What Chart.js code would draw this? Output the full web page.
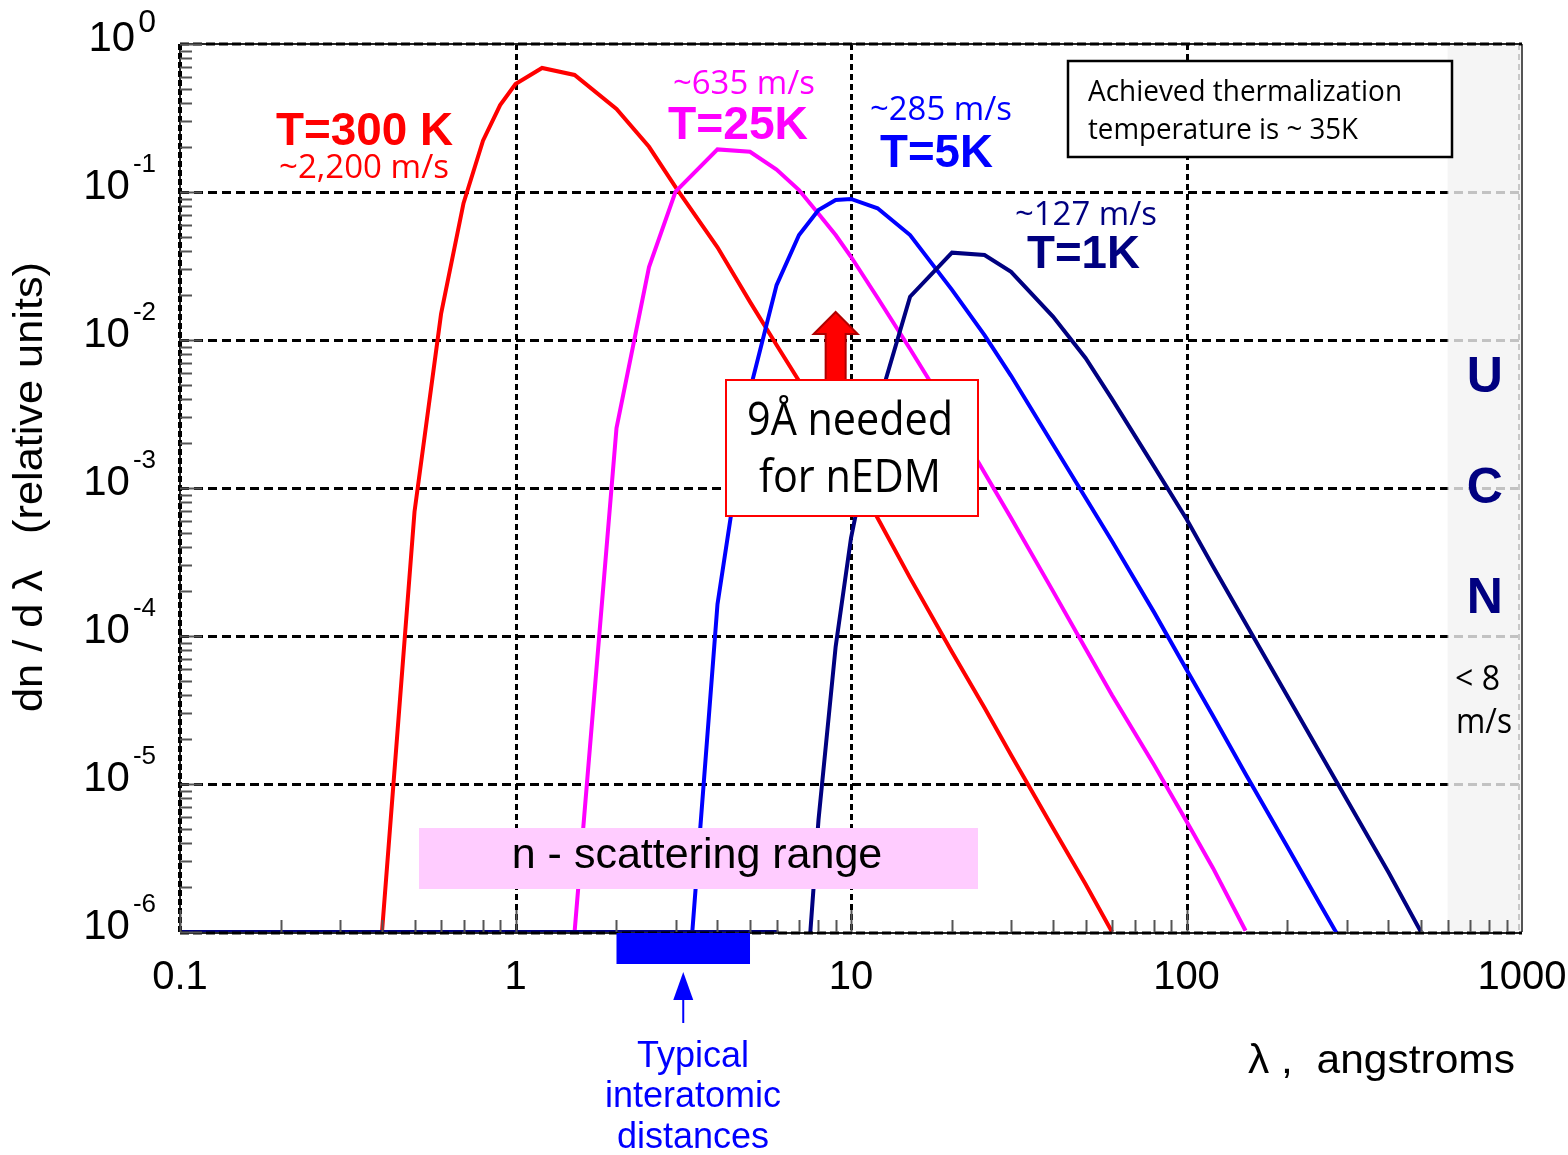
<!DOCTYPE html>
<html>
<head>
<meta charset="utf-8">
<script src="https://cdn.jsdelivr.net/npm/chart.js@4.4.1/dist/chart.umd.min.js"></script>
<style>
  body { margin: 0; background: #fff; }
  #wrap { width: 1568px; height: 1155px; }
</style>
</head>
<body>
<div id="wrap"><canvas id="chart" width="1568" height="1155"></canvas></div>
<script>
// wavelength grid, angstroms
var lambdas = [0.1, 0.2, 0.3, 0.4, 0.5, 0.6, 0.7, 0.8, 0.9, 1, 1.2, 1.5, 2, 2.5, 3, 4, 5, 6, 7, 8, 9, 10,
  12, 15, 20, 25, 30, 40, 50, 60, 80, 100, 120, 150, 200, 250, 300, 400, 500];

// dn/dlambda, relative units (1e-6 = bottom of the plot)
var t300 = [1e-6, 1e-6, 1e-6, 1e-6, 6.9e-4, 1.5e-2, 8.4e-2, 0.222, 0.387, 0.537, 0.689, 0.618, 0.364, 0.202, 0.108,
  4.23e-2, 1.81e-2, 9.25e-3, 5.28e-3, 3.06e-3, 1.95e-3, 1.32e-3, 6.27e-4, 2.47e-4, 7.8e-5, 3.27e-5, 1.57e-5,
  5.05e-6, 2.11e-6, 1.0e-6, null, null, null, null, null, null, null, null, null];
var t25 = [1e-6, 1e-6, 1e-6, 1e-6, 1e-6, 1e-6, 1e-6, 1e-6, 1e-6, 1e-6, 1e-6, 1e-6, 2.54e-3, 3.11e-2, 0.1005,
  0.194, 0.187, 0.142, 0.103, 7.13e-2, 5.12e-2, 3.65e-2, 1.93e-2, 8.7e-3, 3.02e-3, 1.27e-3, 6.27e-4,
  2.01e-4, 8.24e-5, 3.98e-5, 1.35e-5, 5.6e-6, 2.7e-6, 1.02e-6, null, null, null, null, null];
var t5 = [1e-6, 1e-6, 1e-6, 1e-6, 1e-6, 1e-6, 1e-6, 1e-6, 1e-6, 1e-6, 1e-6, 1e-6, 1e-6, 1e-6, 3.4e-8,
  1.64e-4, 4.59e-3, 2.35e-2, 5.12e-2, 7.56e-2, 8.83e-2, 8.97e-2, 7.76e-2, 5.12e-2, 2.18e-2, 1.08e-2, 5.73e-3,
  1.97e-3, 8.59e-4, 4.37e-4, 1.45e-4, 5.94e-5, 2.88e-5, 1.17e-5, 3.75e-6, 1.54e-6, 7.5e-7, null, null];
var t1 = [1e-6, 1e-6, 1e-6, 1e-6, 1e-6, 1e-6, 1e-6, 1e-6, 1e-6, 1e-6, 1e-6, 1e-6, 1e-6, 1e-6, 1e-6,
  1e-6, 1e-6, 1e-6, 8.9e-8, 5.71e-6, 8.47e-5, 4.59e-4, 3.5e-3, 1.96e-2, 3.89e-2, 3.75e-2, 2.89e-2,
  1.44e-2, 7.56e-3, 3.99e-3, 1.40e-3, 6.18e-4, 2.95e-4, 1.22e-4, 3.92e-5, 1.62e-5, 7.89e-6, 2.53e-6, 1.0e-6];

var xTicks = [0.1, 1, 10, 100, 1000];
var xTickLabels = ['0.1', '1', '10', '100', '1000'];
var yExponents = [0, -1, -2, -3, -4, -5, -6];
var scatterRange = [2, 5];     // typical interatomic distances
var ucnBand = [600, 1000];
var nedmLambda = 9;

var RED = '#ff0000', MAG = '#ff00ff', BLUE = '#0000ff', NAVY = '#000080';
var SANS = "'Liberation Sans', Arial, sans-serif";
var CAL = "'Open Sans', sans-serif";

function points (vals) {
  var out = [];
  lambdas.forEach(function (l, i) {
    if (vals[i] !== null) out.push({ x: l, y: vals[i] });
  });
  return out;
}

// text helper, optional w squeezes text to a given width
function txt (ctx, s, x, y, font, color, align, w) {
  ctx.save();
  ctx.font = font;
  ctx.fillStyle = color;
  ctx.textBaseline = 'alphabetic';
  ctx.textAlign = align || 'left';
  var sx = w ? w / ctx.measureText(s).width : 1;
  ctx.translate(x, y);
  ctx.scale(sx, 1);
  ctx.fillText(s, 0, 0);
  ctx.restore();
}

function line (ctx, x1, y1, x2, y2) {
  ctx.beginPath();
  ctx.moveTo(x1, y1);
  ctx.lineTo(x2, y2);
  ctx.stroke();
}

var decor = {
  id: 'decor',
  beforeDatasetsDraw: function (chart) {
    var ctx = chart.ctx, a = chart.chartArea;
    var xs = chart.scales.x, ys = chart.scales.y;
    ctx.save();
    ctx.strokeStyle = '#000';
    ctx.lineWidth = 3;
    ctx.setLineDash([9, 5]);
    yExponents.slice(1, -1).forEach(function (e) {
      var y = Math.round(ys.getPixelForValue(Math.pow(10, e))) + 0.5;
      line(ctx, a.left, y, a.right, y);
    });
    ctx.setLineDash([6, 4]);
    xTicks.slice(1, -1).forEach(function (v) {
      var x = Math.round(xs.getPixelForValue(v)) + 0.5;
      line(ctx, x, a.top, x, a.bottom);
    });
    // UCN band
    ctx.setLineDash([]);
    var b0 = xs.getPixelForValue(ucnBand[0]);
    ctx.fillStyle = 'rgba(242,242,242,0.8)';
    ctx.fillRect(b0, a.top, a.right - b0, a.bottom - a.top);
    ctx.strokeStyle = '#c8c8c8';
    ctx.lineWidth = 2;
    ctx.setLineDash([6, 4]);
    line(ctx, a.right - 3, a.top, a.right - 3, a.bottom);
    ctx.restore();
  },
  afterDatasetsDraw: function (chart) {
    var ctx = chart.ctx, a = chart.chartArea;
    var xs = chart.scales.x, ys = chart.scales.y;
    ctx.save();

    // frame
    ctx.setLineDash([]);
    ctx.strokeStyle = '#555';
    ctx.lineWidth = 2;
    line(ctx, a.right, a.top, a.right, a.bottom);
    ctx.strokeStyle = '#222';
    line(ctx, a.left, a.top, a.right, a.top);
    line(ctx, a.left, a.bottom + 1, a.right, a.bottom + 1);
    line(ctx, a.left, a.top, a.left, a.bottom);
    ctx.strokeStyle = '#000';
    ctx.lineWidth = 3;
    ctx.setLineDash([9, 4]);
    line(ctx, a.left, a.top, a.right, a.top);
    line(ctx, a.left, a.bottom + 1, a.right, a.bottom + 1);
    ctx.lineWidth = 4;
    ctx.setLineDash([6, 3]);
    line(ctx, a.left, a.top, a.left, a.bottom);
    ctx.setLineDash([]);

    // ticks
    ctx.strokeStyle = '#555';
    ctx.lineWidth = 2;
    for (var e = -6; e <= 0; e++) {
      for (var k = 1; k <= 9; k++) {
        var v = k * Math.pow(10, e);
        if (v > 1) break;
        var y = Math.round(ys.getPixelForValue(v)) + 0.5;
        line(ctx, a.left, y, a.left + (k === 1 ? 22 : 12), y);
      }
    }
    for (var d = -1; d <= 2; d++) {
      for (var j = 1; j <= 9; j++) {
        var xv = j * Math.pow(10, d);
        var x = Math.round(xs.getPixelForValue(xv)) + 0.5;
        line(ctx, x, a.bottom, x, a.bottom - (j === 1 ? 22 : 12));
      }
    }

    // y tick labels 10^n
    yExponents.forEach(function (ex) {
      var y = ys.getPixelForValue(Math.pow(10, ex));
      var s = ex === 0 ? '0' : '-' + Math.abs(ex);
      ctx.font = (ex === 0 ? 32 : 26) + 'px ' + SANS;
      var w = ctx.measureText(s).width;
      txt(ctx, s, 156, y + (ex === 0 ? -12 : -20), ctx.font, '#000', 'right');
      txt(ctx, '10', 156 - w - 3, y + 7, '42px ' + SANS, '#000', 'right');
    });
    // x tick labels
    xTicks.forEach(function (v, i) {
      txt(ctx, xTickLabels[i], xs.getPixelForValue(v), 989, '40px ' + SANS, '#000', 'center');
    });

    // axis titles
    txt(ctx, '\u03bb ,  angstroms', 1515, 1073, '40px ' + SANS, '#000', 'right', 267);
    ctx.save();
    ctx.translate(42, 487);
    ctx.rotate(-Math.PI / 2);
    txt(ctx, 'dn / d \u03bb   (relative units)', 0, 0, '40px ' + SANS, '#000', 'center', 450);
    ctx.restore();

    // curve labels
    txt(ctx, 'T=300 K', 276, 145, 'bold 46px ' + SANS, RED, 'left', 177);
    txt(ctx, '~2,200 m/s', 279, 178, '33px ' + CAL, RED, 'left', 170);
    txt(ctx, '~635 m/s', 673, 94, '33px ' + CAL, MAG, 'left', 142);
    txt(ctx, 'T=25K', 668, 139, 'bold 46px ' + SANS, MAG, 'left', 140);
    txt(ctx, '~285 m/s', 870, 120, '33px ' + CAL, BLUE, 'left', 142);
    txt(ctx, 'T=5K', 880, 167, 'bold 46px ' + SANS, BLUE, 'left', 113);
    txt(ctx, '~127 m/s', 1015, 225, '33px ' + CAL, NAVY, 'left', 142);
    txt(ctx, 'T=1K', 1027, 268, 'bold 46px ' + SANS, NAVY, 'left', 113);

    // thermalization note
    ctx.fillStyle = '#fff';
    ctx.fillRect(1068, 61, 384, 96);
    ctx.strokeStyle = '#000';
    ctx.lineWidth = 2.5;
    ctx.strokeRect(1068, 61, 384, 96);
    txt(ctx, 'Achieved thermalization', 1088, 101, '29px ' + CAL, '#000', 'left', 314);
    txt(ctx, 'temperature is ~ 35K', 1088, 139, '29px ' + CAL, '#000', 'left', 270);

    // 9 A arrow and box
    var ax = xs.getPixelForValue(nedmLambda);
    ctx.beginPath();
    ctx.moveTo(ax, 312);
    ctx.lineTo(ax + 22, 334);
    ctx.lineTo(ax + 10, 334);
    ctx.lineTo(ax + 10, 380);
    ctx.lineTo(ax - 10, 380);
    ctx.lineTo(ax - 10, 334);
    ctx.lineTo(ax - 22, 334);
    ctx.closePath();
    ctx.fillStyle = RED;
    ctx.fill();
    ctx.strokeStyle = '#b00000';
    ctx.lineWidth = 2;
    ctx.stroke();
    ctx.fillStyle = '#fff';
    ctx.fillRect(726, 380, 252, 136);
    ctx.strokeStyle = RED;
    ctx.strokeRect(726, 380, 252, 136);
    txt(ctx, '9\u00c5 needed', 850, 435, '46px ' + CAL, '#000', 'center', 206);
    txt(ctx, 'for nEDM', 850, 492, '46px ' + CAL, '#000', 'center', 182);

    // n - scattering range
    ctx.fillStyle = '#ffccff';
    ctx.fillRect(419, 828, 559, 61);
    txt(ctx, 'n - scattering range', 697, 868, '43px ' + SANS, '#000', 'center');

    // interatomic distances bar and arrow
    var r0 = xs.getPixelForValue(scatterRange[0]), r1 = xs.getPixelForValue(scatterRange[1]);
    ctx.fillStyle = BLUE;
    ctx.fillRect(r0, 933, r1 - r0, 31);
    var mx = xs.getPixelForValue(Math.sqrt(scatterRange[0] * scatterRange[1]));
    ctx.beginPath();
    ctx.moveTo(mx, 972);
    ctx.lineTo(mx + 10, 1000);
    ctx.lineTo(mx - 10, 1000);
    ctx.closePath();
    ctx.fill();
    ctx.strokeStyle = BLUE;
    ctx.lineWidth = 2;
    line(ctx, mx, 1000, mx, 1023);
    txt(ctx, 'Typical', 693, 1067, '36px ' + SANS, BLUE, 'center');
    txt(ctx, 'interatomic', 693, 1107, '36px ' + SANS, BLUE, 'center');
    txt(ctx, 'distances', 693, 1148, '36px ' + SANS, BLUE, 'center');

    // UCN
    var ux = (xs.getPixelForValue(ucnBand[0]) + a.right) / 2;
    txt(ctx, 'U', ux, 392, 'bold 50px ' + SANS, NAVY, 'center');
    txt(ctx, 'C', ux, 503, 'bold 50px ' + SANS, NAVY, 'center');
    txt(ctx, 'N', ux, 613, 'bold 50px ' + SANS, NAVY, 'center');
    txt(ctx, '< 8', 1455, 690, '35px ' + CAL, '#000', 'left', 45);
    txt(ctx, 'm/s', 1456, 733, '35px ' + CAL, '#000', 'left', 56);

    ctx.restore();
  }
};

var ctx = document.getElementById('chart').getContext('2d');
new Chart(ctx, {
  type: 'line',
  data: {
    datasets: [
      { label: 'T=1K', data: points(t1), borderColor: NAVY, borderWidth: 4 },
      { label: 'T=5K', data: points(t5), borderColor: BLUE, borderWidth: 4 },
      { label: 'T=25K', data: points(t25), borderColor: MAG, borderWidth: 4 },
      { label: 'T=300 K', data: points(t300), borderColor: RED, borderWidth: 4 }
    ]
  },
  options: {
    responsive: false,
    animation: false,
    devicePixelRatio: 1,
    layout: { padding: { left: 180, top: 44, right: 46, bottom: 223 } },
    plugins: { legend: { display: false }, tooltip: { enabled: false } },
    elements: { point: { radius: 0 }, line: { tension: 0, fill: false } },
    scales: {
      x: { type: 'logarithmic', min: 0.1, max: 1000, display: false },
      y: { type: 'logarithmic', min: 1e-6, max: 1, display: false }
    }
  },
  plugins: [decor]
});
</script>
</body>
</html>
